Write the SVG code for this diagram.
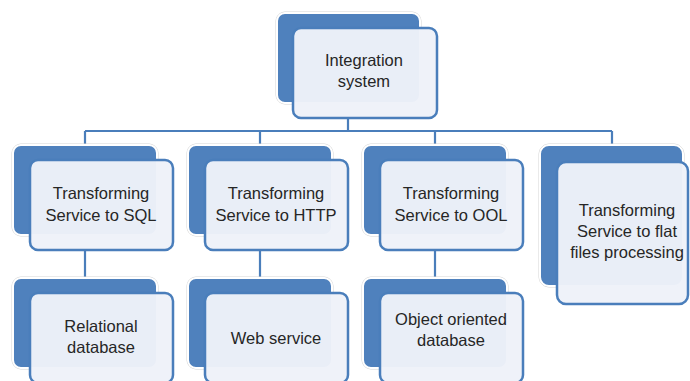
<svg xmlns="http://www.w3.org/2000/svg" width="690" height="381" viewBox="0 0 690 381">
  <defs>
    <style>
      .back { fill: #4f81bd; stroke: #ffffff; stroke-width: 2; }
      .halo { fill: none; stroke: #d4d4d4; stroke-width: 1; }
      .front { fill: #eef2f9; fill-opacity: 0.97; stroke: #4a7ebb; stroke-width: 2.5; }
      .link { fill: none; stroke: #4a7ebb; stroke-width: 2.2; }
      text { font-family: "Liberation Sans", Arial, sans-serif; font-size: 16.5px; fill: #262626; text-anchor: middle; dominant-baseline: middle; }
    </style>
  </defs>
  <rect width="690" height="381" fill="#ffffff"/>

  <!-- tree links -->
  <g id="connectors">
    <path class="link" d="M348 118 V131 M85 131 H612 M85 131 V146 M260 131 V146 M435 131 V146 M612 131 V146"/>
    <path class="link" d="M85 250 V279 M260 250 V279 M435 250 V279"/>
  </g>

  <g id="integration-system">
    <rect class="halo" x="276" y="12" width="145" height="92" rx="9"/>
    <rect class="back" x="277" y="13" width="143" height="90" rx="8"/>
    <rect class="front" x="293" y="28" width="144" height="90" rx="8"/>
    <text x="364" y="62">Integration</text>
    <text x="364" y="83">system</text>
  </g>

  <g id="to-sql">
    <rect class="halo" x="12" y="144" width="146" height="92" rx="9"/>
    <rect class="back" x="13" y="145" width="144" height="90" rx="8"/>
    <rect class="front" x="30" y="160" width="143" height="90" rx="8"/>
    <text x="101" y="195">Transforming</text>
    <text x="101" y="217">Service to SQL</text>
  </g>

  <g id="to-http">
    <rect class="halo" x="187" y="144" width="146" height="92" rx="9"/>
    <rect class="back" x="188" y="145" width="144" height="90" rx="8"/>
    <rect class="front" x="205" y="160" width="143" height="90" rx="8"/>
    <text x="276" y="195">Transforming</text>
    <text x="276" y="217">Service to HTTP</text>
  </g>

  <g id="to-ool">
    <rect class="halo" x="362" y="144" width="146" height="92" rx="9"/>
    <rect class="back" x="363" y="145" width="144" height="90" rx="8"/>
    <rect class="front" x="380" y="160" width="143" height="90" rx="8"/>
    <text x="451" y="195">Transforming</text>
    <text x="451" y="217">Service to OOL</text>
  </g>

  <g id="to-flat-files">
    <rect class="halo" x="539" y="144" width="145" height="143" rx="10"/>
    <rect class="back" x="540" y="145" width="143" height="141" rx="9"/>
    <rect class="front" x="557" y="162" width="131" height="142" rx="9"/>
    <text x="627" y="212">Transforming</text>
    <text x="627" y="233">Service to flat</text>
    <text x="627" y="254">files processing</text>
  </g>

  <g id="relational-db">
    <rect class="halo" x="12" y="277" width="146" height="92" rx="9"/>
    <rect class="back" x="13" y="278" width="144" height="90" rx="8"/>
    <rect class="front" x="30" y="293" width="143" height="90" rx="8"/>
    <text x="101" y="328">Relational</text>
    <text x="101" y="349">database</text>
  </g>

  <g id="web-service">
    <rect class="halo" x="187" y="277" width="146" height="92" rx="9"/>
    <rect class="back" x="188" y="278" width="144" height="90" rx="8"/>
    <rect class="front" x="205" y="293" width="143" height="90" rx="8"/>
    <text x="276" y="340">Web service</text>
  </g>

  <g id="object-db">
    <rect class="halo" x="362" y="277" width="146" height="92" rx="9"/>
    <rect class="back" x="363" y="278" width="144" height="90" rx="8"/>
    <rect class="front" x="380" y="293" width="143" height="90" rx="8"/>
    <text x="451" y="321">Object oriented</text>
    <text x="451" y="342">database</text>
  </g>
</svg>
